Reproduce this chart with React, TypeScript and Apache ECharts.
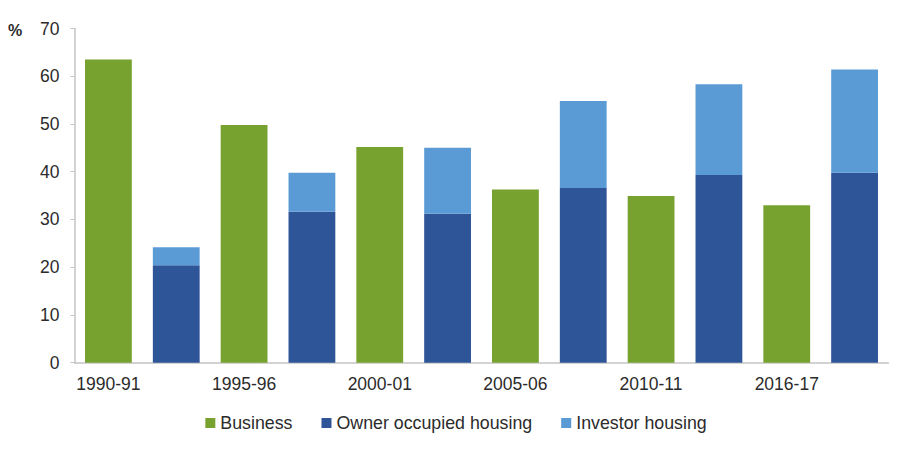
import React, { useEffect, useRef } from "react";
import * as echarts from "echarts";

const categories = [
  "1990-91", "1990-91 housing",
  "1995-96", "1995-96 housing",
  "2000-01", "2000-01 housing",
  "2005-06", "2005-06 housing",
  "2010-11", "2010-11 housing",
  "2016-17", "2016-17 housing",
];
const business = [63.5, null, 49.8, null, 45.2, null, 36.3, null, 34.9, null, 33.0, null];
const ownerOccupied = [null, 20.4, null, 31.6, null, 31.2, null, 36.6, null, 39.3, null, 39.8];
const investorHousing = [null, 3.8, null, 8.2, null, 13.8, null, 18.2, null, 19.0, null, 21.6];

const FONT = "'Liberation Sans', Arial, sans-serif";
const TEXT = "#2b2b2b";

export default function App() {
  const ref = useRef<HTMLDivElement>(null);
  useEffect(() => {
    if (!ref.current) return;
    const chart = echarts.init(ref.current, undefined, { renderer: "svg" });
    const toData = (arr: (number | null)[]) => arr.map((v) => (v == null ? "-" : v));
    chart.setOption({
      animation: false,
      textStyle: { fontFamily: FONT },
      grid: { left: 74.5, right: 23.5, top: 28.5, bottom: 93.3, containLabel: false },
      legend: {
        top: 409,
        left: "center",
        icon: "rect",
        itemWidth: 10,
        itemHeight: 10,
        itemGap: 29,
        textStyle: { fontSize: 17.8, color: TEXT, fontFamily: FONT },
        data: ["Business", "Owner occupied housing", "Investor housing"],
      },
      graphic: [
        {
          type: "text",
          left: 8,
          top: 22,
          style: { text: "%", fontSize: 16, fontWeight: "bold", fill: TEXT, fontFamily: FONT },
        },
      ],
      xAxis: {
        type: "category",
        data: categories,
        axisLine: { lineStyle: { color: "#c4c4c4", width: 1.5 } },
        axisTick: { show: false },
        axisLabel: { interval: 1, fontSize: 17.5, color: TEXT, margin: 12, fontFamily: FONT },
      },
      yAxis: {
        type: "value",
        min: 0,
        max: 70,
        interval: 10,
        axisLine: { show: true, lineStyle: { color: "#c4c4c4", width: 1.5 } },
        axisTick: { show: true, length: 4, lineStyle: { color: "#c4c4c4" } },
        splitLine: { show: false },
        axisLabel: { fontSize: 17.5, color: TEXT, margin: 15, fontFamily: FONT },
      },
      series: [
        {
          name: "Business",
          type: "bar",
          stack: "all",
          barWidth: "69%",
          itemStyle: { color: "#78a22f" },
          data: toData(business),
        },
        {
          name: "Owner occupied housing",
          type: "bar",
          stack: "all",
          barWidth: "69%",
          itemStyle: { color: "#2e5597" },
          data: toData(ownerOccupied),
        },
        {
          name: "Investor housing",
          type: "bar",
          stack: "all",
          barWidth: "69%",
          itemStyle: { color: "#5b9bd5" },
          data: toData(investorHousing),
        },
      ],
    });
    return () => chart.dispose();
  }, []);
  return (
    <div style={{ position: "fixed", left: 0, top: 0, width: 912, height: 456, background: "#fff" }}>
      <div ref={ref} style={{ width: 912, height: 456 }} />
    </div>
  );
}
